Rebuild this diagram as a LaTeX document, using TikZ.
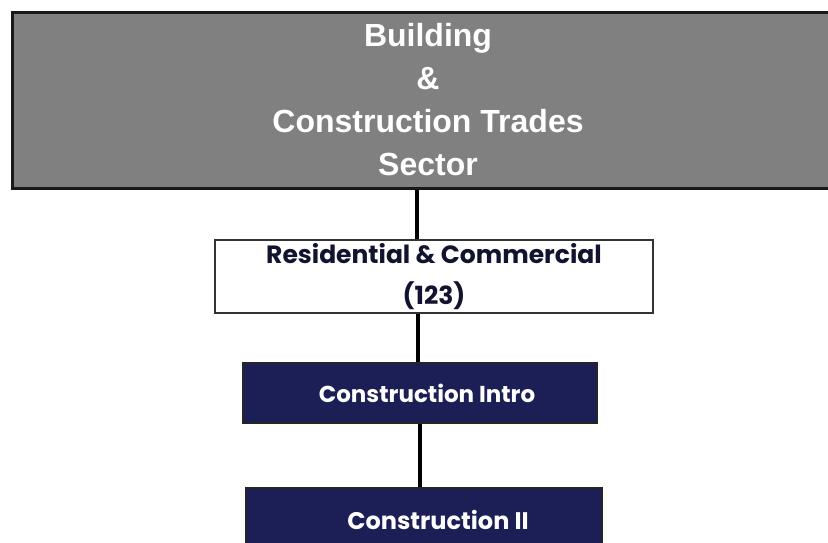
\documentclass[tikz,border=0pt]{standalone}
\usepackage{fontspec}
\setmainfont{Liberation Sans}
\newfontfamily\popp{Poppins}
\usetikzlibrary{positioning}
\definecolor{secgray}{HTML}{808080}
\definecolor{navy}{HTML}{1C1F55}
\definecolor{inkblue}{HTML}{12132E}
\begin{document}
\begin{tikzpicture}[x=1pt, y=-1pt, node distance=120pt, line width=1.5pt]
		\tikzstyle{secteur} = [rectangle, draw=black!90, line width=3pt, fill=secgray, text=white, minimum width=832pt, minimum height=176pt, align=center, font=\fontsize{32}{43}\selectfont\bfseries]
		\tikzstyle{branche} = [rectangle, draw=black!80, line width=2pt, fill=white, text=inkblue, minimum width=438pt, minimum height=69pt, align=center, font=\popp\fontsize{25}{41}\selectfont\bfseries]
		\tikzstyle{cours} = [rectangle, draw=black!85, line width=1.5pt, fill=navy, text=white, minimum width=355pt, minimum height=60pt, align=center, font=\popp\fontsize{24}{26}\selectfont\bfseries]
		\tikzstyle{lien} = [draw=black, line width=4pt]
		\clip (0,0) rectangle (828,542);
		\node[secteur] (sector) at (428,100) {Building\\ \&\\ Construction Trades\\ Sector};
		\node[branche, below of=sector, node distance=176.5pt, xshift=6pt] (res) {Residential \& Commercial\\ (123)};
		\node[cours, below of=res, node distance=116.5pt, xshift=-14pt, minimum width=354pt, font=\popp\fontsize{23}{26}\selectfont\bfseries] (intro) {\hspace*{14pt}Construction Intro};
		\node[cours, below of=intro, node distance=127pt, xshift=4pt, minimum width=356pt, minimum height=64pt] (cii) {\hspace*{28pt}Construction II};
		\draw[lien] ([xshift=-17pt]res.north) -- ([xshift=-17pt]res.north |- sector.south);
		\draw[lien] ([xshift=-2pt]intro.north) -- ([xshift=-2pt]intro.north |- res.south);
		\draw[lien] (cii.north -| intro.south) -- (intro.south);
	\end{tikzpicture}
\end{document}
